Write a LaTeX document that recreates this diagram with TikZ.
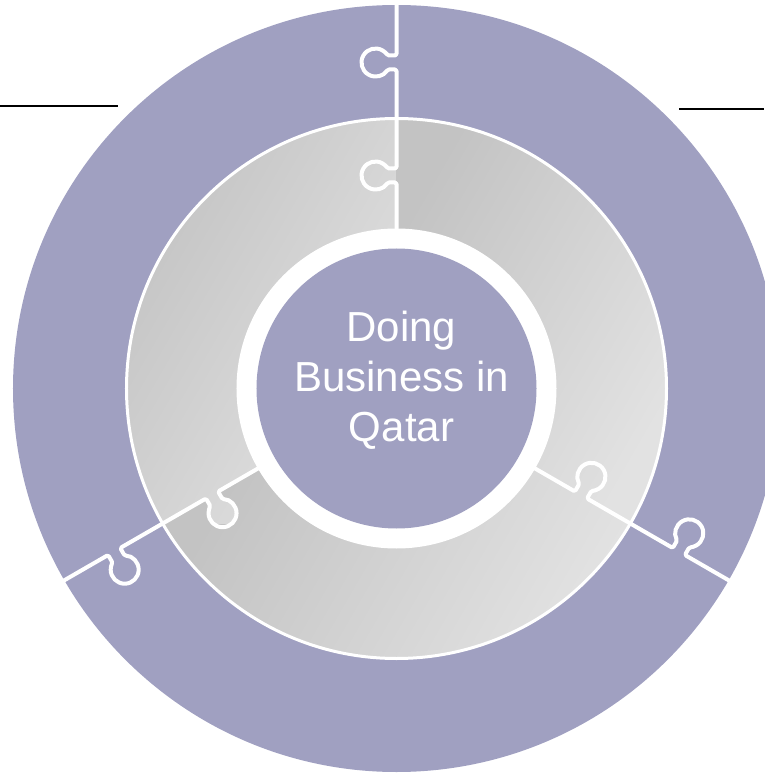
\documentclass[tikz,border=0pt]{standalone}
\usepackage{fontspec}
\setmainfont{Liberation Sans}
\definecolor{ringpurple}{RGB}{160,160,193}
\definecolor{gdark}{RGB}{195,195,195}
\definecolor{glight}{RGB}{226,226,226}
\begin{document}
\begin{tikzpicture}[x=1pt,y=1pt,
  seam/.style={draw=white, line width=4pt, line join=round, rounded corners=1.5pt},
  graybody/.style={top color=gdark, bottom color=glight, shading angle=60},
  rule/.style={draw=black, line width=2pt}]
\useasboundingbox (-396.5,-384.5) rectangle (367.5,388.5);

% outer purple ring (three pieces of one colour)
\fill[ringpurple] (0,0) circle[radius=383.5];

% middle ring: three grey pieces, each shaded over its own box
% \a = angle of the piece's counter-clockwise edge
\foreach \a/\xa/\ya/\xb/\yb in {90/0/-135/270/270, 210/-270/-135/0/270, 330/-234/-270/234/-75} {
  \begin{scope}
    \clip ({\a-120}:150) -- ({\a-120}:270) arc[start angle=\a-120, end angle=\a, radius=270]
          -- (\a:150) arc[start angle=\a, end angle=\a-120, radius=150] -- cycle;
    \shade[graybody] (\xa,\ya) rectangle (\xb,\yb);
  \end{scope}
}
% the tab of each grey piece, reaching into its neighbour
\foreach \a/\xa/\ya/\xb/\yb in {90/0/-135/270/270, 210/-270/-135/0/270, 330/-234/-270/234/-75} {
  \begin{scope}
    \clip[rotate=\a] (206,-3) -- (206,8.9) arc[start angle=240, end angle=-60, radius=14]
          -- (220,-3) -- cycle;
    \shade[graybody] (\xa,\ya) rectangle (\xb,\yb);
  \end{scope}
}

% seams between the pieces, with a tab in each ring
\foreach \a in {90,210,330} {
  \draw[seam, rotate=\a] (150,0) -- (206,0) -- (206,8.9)
        arc[start angle=240, end angle=-60, radius=14] -- (220,0)
        -- (319,0) -- (319,8.9)
        arc[start angle=240, end angle=-60, radius=14] -- (333,0) -- (400,0);
}

% white rim of the grey ring
\draw[white, line width=3pt] (0,0) circle[radius=270];

% centre disc with its white band
\fill[white] (0,0) circle[radius=160];
\fill[ringpurple] (0,0) circle[radius=140];
\node[text=white, align=center, inner sep=0pt,
      font=\fontsize{42}{50}\selectfont] (title) at (5,8) {Doing\\Business in\\Qatar};

% short rules at the top corners
\coordinate (la) at (-396.5,282.5);
\coordinate (lb) at (-278.5,282.5);
\coordinate (ra) at (282.5,279.5);
\coordinate (rb) at (367.5,279.5);
\draw[rule] (la) -- (lb);
\draw[rule] (ra) -- (rb);
\end{tikzpicture}
\end{document}
